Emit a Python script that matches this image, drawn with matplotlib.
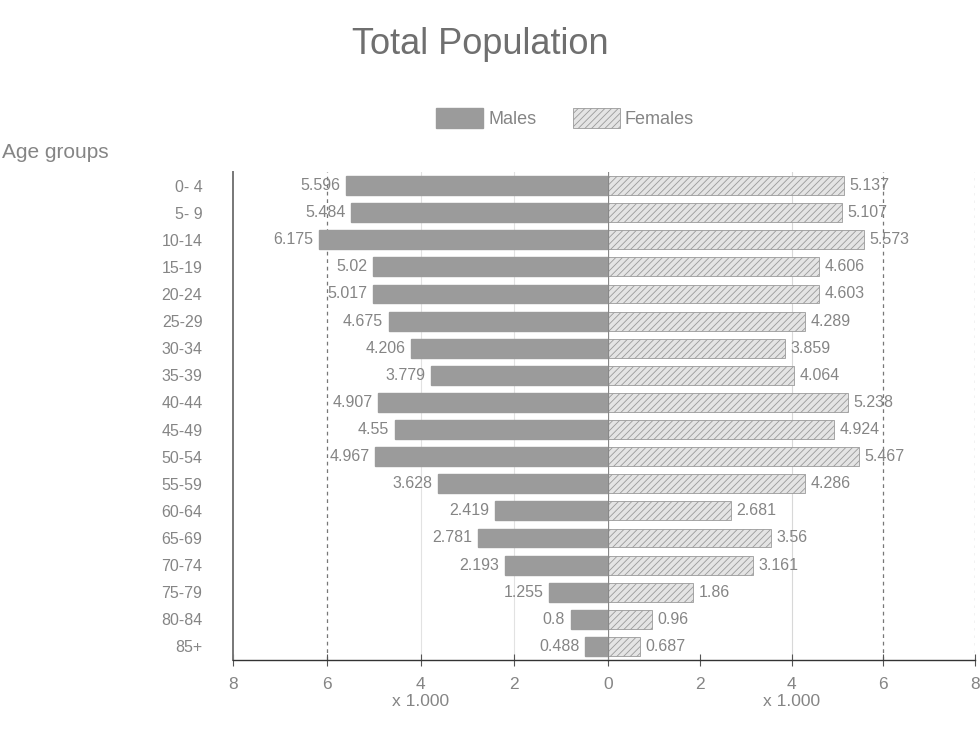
import matplotlib
matplotlib.use("Agg")
import matplotlib.pyplot as plt

plt.rcParams['font.family'] = ['Liberation Sans', 'DejaVu Sans']
plt.rcParams['hatch.linewidth'] = 0.6

age_groups = ["0- 4", "5- 9", "10-14", "15-19", "20-24", "25-29", "30-34",
              "35-39", "40-44", "45-49", "50-54", "55-59", "60-64", "65-69",
              "70-74", "75-79", "80-84", "85+"]
males = [5.596, 5.484, 6.175, 5.02, 5.017, 4.675, 4.206, 3.779, 4.907,
         4.55, 4.967, 3.628, 2.419, 2.781, 2.193, 1.255, 0.8, 0.488]
females = [5.137, 5.107, 5.573, 4.606, 4.603, 4.289, 3.859, 4.064, 5.238,
           4.924, 5.467, 4.286, 2.681, 3.56, 3.161, 1.86, 0.96, 0.687]
left_ticks = [8, 6, 4, 2, 0]
right_ticks = [2, 4, 6, 8]

TXT = "#858585"
MALE_C = "#9b9b9b"
FEM_C = "#e4e4e4"

fig = plt.figure(figsize=(9.8, 7.38), dpi=100)
bottom, height = 1 - 660 / 738, (660 - 172) / 738
axL = fig.add_axes([233 / 980, bottom, (608 - 233) / 980, height])
axR = fig.add_axes([608 / 980, bottom, (975 - 608) / 980, height], sharey=axL)

ypos = list(range(len(age_groups)))

axL.barh(ypos, males, height=0.7, color=MALE_C, edgecolor=MALE_C, zorder=3)
axR.barh(ypos, females, height=0.7, color=FEM_C, edgecolor="#9a9a9a",
         hatch="/////", linewidth=0.6, zorder=3)

axL.set_xlim(8, 0)
axR.set_xlim(0, 8)
axL.set_ylim(len(age_groups) - 0.5, -0.5)

for y, v in zip(ypos, males):
    axL.text(v + 0.12, y, f"{v:g}", ha="right", va="center",
             fontsize=11.5, color=TXT)
for y, v in zip(ypos, females):
    axR.text(v + 0.12, y, f"{v:g}", ha="left", va="center",
             fontsize=11.5, color=TXT)

axL.set_yticks(ypos)
axL.set_yticklabels(age_groups, fontsize=11.5, color=TXT)
axL.tick_params(axis="y", length=0, pad=22)
axR.tick_params(axis="y", left=False, labelleft=False, length=0)

axL.set_xticks(left_ticks)
axL.set_xticklabels([str(t) for t in left_ticks])
axR.set_xticks(right_ticks)
axR.set_xticklabels([str(t) for t in right_ticks])
for ax in (axL, axR):
    ax.tick_params(axis="x", labelsize=12.5, labelcolor=TXT, color="#555555",
                   direction="inout", length=8, pad=8)
    for s in ("top", "right", "left"):
        ax.spines[s].set_visible(False)
    ax.spines["bottom"].set_color("#333333")
    ax.spines["bottom"].set_linewidth(1.0)
    ax.set_xlabel("x 1.000", fontsize=12.5, color=TXT, labelpad=2)

axL.spines["left"].set_visible(True)
axL.spines["left"].set_color("#777777")
axL.spines["left"].set_linewidth(1.4)

# reference grid lines
axL.axvline(6, color="#777777", linestyle=(0, (3, 3)), linewidth=0.9, zorder=1)
axL.axvline(4, color="#e2e2e2", linewidth=0.8, zorder=1)
axL.axvline(2, color="#e2e2e2", linewidth=0.8, zorder=1)
axR.axvline(6, color="#777777", linestyle=(0, (3, 3)), linewidth=0.9, zorder=1)
axR.axvline(4, color="#d8d8d8", linewidth=0.8, zorder=1)
axR.axvline(8, color="#999999", linestyle=(0, (2, 4)), linewidth=0.9, zorder=1)
axR.axvline(0, color="#888888", linewidth=0.9, zorder=4)

fig.text(480 / 980, 1 - 45 / 738, "Total Population", ha="center",
         va="center", fontsize=26, color="#6f6f6f")
fig.text(2 / 980, 1 - 152 / 738, "Age groups", ha="left", va="center",
         fontsize=15, color=TXT)

handles = [
    plt.Rectangle((0, 0), 1, 1, facecolor=MALE_C, edgecolor=MALE_C),
    plt.Rectangle((0, 0), 1, 1, facecolor=FEM_C, edgecolor="#9a9a9a",
                  hatch="/////", linewidth=0.6),
]
fig.legend(handles, ["Males", "Females"], loc="center",
           bbox_to_anchor=(565 / 980, 1 - 118 / 738), ncol=2, frameon=False,
           fontsize=13, labelcolor=TXT, handlelength=2.6, handleheight=1.3,
           handletextpad=0.3, columnspacing=2.0)

fig.savefig("out.png", dpi=100, facecolor="white")
